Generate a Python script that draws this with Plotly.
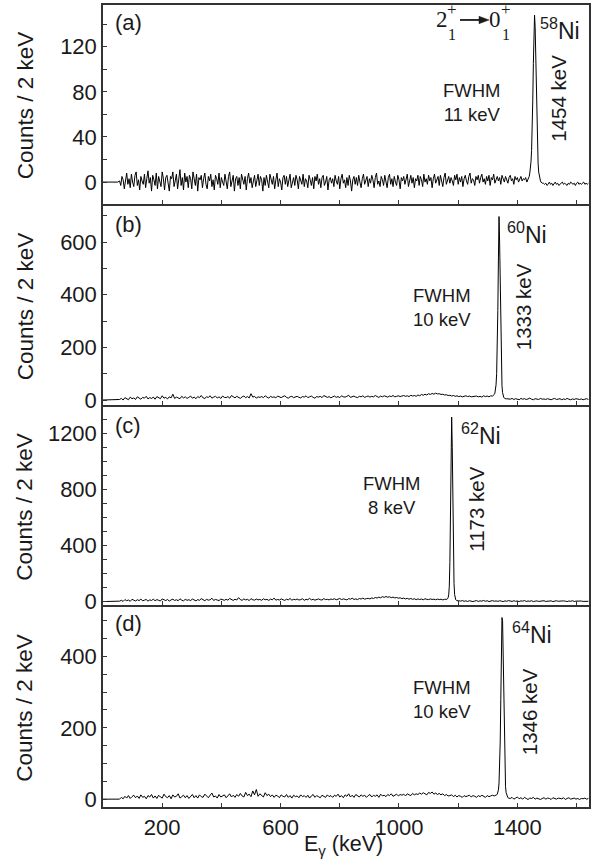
import plotly.graph_objects as go

# ---------------- data (counts per 2 keV bin) ----------------
lead_energy = [0, 50]
lead_counts = [0, 0]

# panel (a) background read at 4 keV spacing from 56 keV
bg_a_start, bg_a_step = 56, 4
bg_a = [
    1, -3, 5, 2, -6, 4, 8, -2, 3, -5, 7, 0, -4, 6, 9, -3, 2, -7, 5, 1,
    -2, 7, -5, 3, 10, -1, 4, -8, 6, 2, -3, 8, -6, 5, 1, -4, 9, 3, -7, 4,
    6, -2, -8, 5, 3, 9, -4, 1, 7, -6, 2, 11, -3, 4, -7, 8, 0, 5, -5, 6,
    3, -6, 9, 1, -3, 7, -8, 4, 2, 6, -5, 3, 8, -2, -6, 5, 1, 7, -4, 2,
    -7, 6, 3, -2, 8, -5, 4, 0, -3, 7, 2, -6, 5, 9, -4, 1, 6, -8, 3, 5,
    -3, 4, -6, 7, 2, -2, 5, -7, 3, 8, -1, 4, -5, 2, 6, -4, 1, 7, -3, 5,
    2, -8, 4, -3, 6, 1, -5, 7, 3, -2, 5, -6, 2, 8, -4, 3, 0, -7, 4, 6,
    -2, 5, -4, 3, 7, -5, 1, 4, -3, 6, 2, -6, 5, 0, -2, 7, -4, 3, 1, -5,
    6, 2, -3, 4, -6, 5, 1, 7, -2, 3, -5, 4, 6, -3, 0, 5, -7, 2, 4, -1,
    3, -4, 6, 1, -2, 5, -6, 3, 7, -1, 2, -5, 4, -3, 6, 1, -8, 2, 5, -2,
    4, -3, 6, 0, -5, 3, 7, -2, 1, 5, -4, 3, -1, 6, 2, -5, 4, 8, -2, 1,
    -4, 5, 2, -3, 6, 1, -5, 4, 7, -2, 3, -4, 5, 0, -3, 6, 2, -6, 4, 1,
    5, -2, 3, 7, -4, 2, 6, -1, 4, -5, 3, 1, 6, -3, 5, 2, -4, 7, 0, 3,
    -2, 6, 1, 4, -5, 3, 7, -1, 2, 5, -3, 6, 1, -4, 4, 8, -2, 3, 5, -1,
    4, 1, -3, 6, 2, 7, -2, 4, 0, 5, -4, 3, 6, 1, -2, 5, 8, -1, 3, 2,
    -3, 5, 2, 6, -1, 4, 7, 0, 3, -2, 5, 1, 6, -3, 4, 2, 7, -1, 3, 5,
    1, 4, -2, 6, 3, 0, 5, 2, -1, 4, 6, 1, 3, -2, 5, 2, 4, 0, 3, 5,
    1, 3, 2, 4, 0, 2, 2, 2, 2, 2, 2, 2, 2, 2, 2, 2, 2, 2, -1, -2,
    -1, -3, -2, 0, -2, -1, -3, -1, 0, -2, -1, -3, -2, -1, 0, -2, -1, -2, -3, -1,
    -2, 0, -1, -2, -1, -3, -1, 0, -2, -1, -2, -1, 0, -2, -1, -2, -1,
]
peak_a_start = 1436
peak_a = [2, 3, 5, 8, 12, 18, 28, 45, 72, 105, 135, 148, 138, 110, 78,
          50, 30, 17, 9, 5, 2, 1, 0, -1, -1]

# panels (b)-(d) background read at 6 keV spacing from 56 keV
bg_start, bg_step = 56, 6
bg_b = [
    2, 6, 0, 9, 4, 1, 11, 5, 8, 2, 12, 6, 3, 10, 7, 14, 4, 9, 6, 11,
    3, 13, 8, 5, 16, 7, 10, 4, 12, 8, 22, 6, 11, 9, 5, 14, 8, 12, 6, 10,
    15, 7, 11, 5, 13, 9, 17, 8, 6, 12, 10, 16, 7, 11, 14, 8, 12, 6, 15, 10,
    9, 13, 7, 17, 11, 8, 14, 10, 6, 12, 15, 9, 13, 8, 24, 11, 14, 7, 12, 10,
    13, 9, 16, 11, 7, 14, 10, 12, 8, 15, 11, 9, 13, 16, 10, 7, 12, 14, 9, 11,
    14, 10, 8, 13, 11, 16, 9, 12, 15, 10, 7, 13, 11, 14, 9, 17, 12, 10, 13, 8,
    12, 15, 10, 13, 9, 16, 12, 11, 14, 18, 10, 13, 15, 11, 9, 14, 12, 16, 10, 13,
    15, 11, 14, 12, 17, 13, 10, 15, 12, 16, 14, 11, 15, 13, 17, 12, 14, 16, 13, 15,
    17, 14, 16, 13, 18, 15, 17, 14, 19, 16, 21, 18, 22, 19, 24, 21, 25, 22, 26, 23,
    24, 21, 22, 19, 20, 17, 18, 15, 17, 14, 16, 13, 15, 12, 14, 16, 13, 15, 12, 14,
    13, 15, 12, 14, 11, 16, 13, 15, 12, 16, 15, 14, 12, 10, 8, 7, 6, 5, 5, 4,
    3, 6, 2, 5, 4, 1, 6, 3, 5, 2, 4, 7, 3, 1, 5, 4, 2, 6, 3, 4,
    2, 5, 3, 1, 4, 6, 2, 3, 5, 1, 4, 2, 6, 3, 1, 4, 2, 5, 3, 2,
    4, 1, 3, 5, 2,
]
peak_b_start = 1316
peak_b = [15, 16, 18, 21, 26, 36, 58, 100, 190, 340, 540, 697, 600, 400, 220,
          110, 55, 28, 15, 10, 7, 5, 5, 4]

bg_c = [
    3, 9, 1, 14, 6, 11, 2, 16, 8, 4, 13, 7, 18, 5, 10, 15, 3, 12, 8, 17,
    6, 14, 9, 4, 19, 11, 7, 15, 3, 12, 17, 8, 13, 6, 20, 10, 5, 16, 9, 13,
    7, 18, 11, 5, 14, 9, 21, 12, 6, 16, 10, 13, 24, 8, 15, 11, 7, 18, 12, 9,
    16, 10, 22, 13, 8, 17, 11, 28, 14, 9, 19, 12, 16, 7, 21, 13, 10, 18, 12, 15,
    9, 20, 13, 16, 8, 18, 12, 25, 10, 15, 11, 19, 14, 8, 17, 12, 22, 10, 16, 13,
    18, 11, 14, 20, 9, 16, 13, 23, 12, 17, 10, 15, 19, 13, 11, 21, 14, 16, 12, 18,
    15, 20, 13, 17, 22, 14, 19, 16, 12, 21, 17, 24, 15, 19, 14, 22, 18, 25, 17, 21,
    23, 19, 26, 22, 29, 25, 32, 27, 35, 30, 36, 31, 34, 28, 32, 26, 29, 24, 27, 21,
    25, 19, 23, 17, 22, 16, 20, 14, 19, 15, 18, 13, 20, 16, 14, 19, 15, 17, 13, 18,
    14, 17, 12, 16, 14, 15, 14, 13, 12, 10, 8, 6, 3, 7, 2, 5, 1, 6, 3, 0,
    4, 7, 1, 5, 3, 8, 2, 6, 0, 4, 7, 2, 5, 1, 6, 3, 0, 5, 2, 7,
    3, 1, 6, 2, 4, 0, 5, 3, 7, 1, 4, 2, 6, 0, 3, 5, 1, 4, 2, 6,
    1, 4, 2, 5, 0, 3, 6, 2, 4, 1, 5, 3, 0, 4, 2, 6, 1, 3, 5, 2,
    4, 1, 3, 0, 2,
]
peak_c_start = 1162
peak_c = [16, 20, 28, 48, 110, 280, 600, 1020, 1318, 1100, 700, 330, 130,
          50, 22, 12, 8, 6]

bg_d = [
    0, 5, 1, 8, 3, 10, 2, 7, 11, 4, 9, 2, 12, 5, 8, 1, 10, 6, 13, 3,
    9, 2, 11, 6, 3, 14, 7, 4, 10, 1, 12, 6, 8, 15, 3, 7, 11, 4, 10, 2,
    8, 13, 4, 10, 3, 12, 7, 5, 14, 8, 4, 11, 17, 6, 9, 3, 13, 6, 8, 12,
    4, 10, 15, 6, 11, 5, 13, 8, 16, 9, 6, 19, 10, 14, 7, 23, 12, 27, 8, 15,
    11, 6, 18, 10, 14, 7, 12, 5, 11, 9, 4, 12, 8, 6, 13, 5, 10, 3, 11, 7,
    9, 4, 12, 7, 10, 5, 11, 3, 9, 13, 5, 10, 7, 4, 11, 8, 5, 12, 7, 10,
    5, 11, 8, 14, 6, 10, 4, 12, 8, 15, 6, 11, 5, 13, 9, 6, 12, 8, 11, 5,
    10, 13, 6, 11, 8, 12, 5, 14, 9, 11, 7, 13, 10, 15, 8, 12, 14, 9, 13, 11,
    14, 9, 15, 12, 10, 16, 12, 15, 13, 17, 14, 18, 15, 12, 19, 16, 20, 14, 17, 13,
    16, 12, 15, 10, 13, 9, 10, 12, 7, 11, 6, 10, 8, 5, 10, 7, 9, 11, 6, 10,
    8, 5, 10, 7, 11, 8, 5, 10, 7, 9, 11, 9, 11, 10, 8, 7, 5, 4, 6, 3,
    2, 5, 0, 3, 6, 1, 4, 0, 5, 2, -1, 3, 2, 5, 0, 3, 2, -1, 2, 4,
    0, 3, 2, -1, 4, 2, 0, 3, 2, 1, 4, -1, 2, 4, 0, 2, 3, 0, 2, -1,
    2, 1, 3, 0, 2,
]
peak_d_start = 1328
peak_d = [10, 12, 14, 18, 26, 45, 85, 160, 280, 420, 509, 500, 400, 260,
          140, 70, 35, 18, 10, 6, 4, 3, 3, 2]

panel_tags = ["(a)", "(b)", "(c)", "(d)"]
isotopes = ["58", "60", "62", "64"]
fwhm_text = ["11 keV", "10 keV", "8 keV", "10 keV"]
line_energy = ["1454 keV", "1333 keV", "1173 keV", "1346 keV"]

x_major = [200, 600, 1000, 1400]
x_minor = [400, 800, 1200, 1600]
y_major = [[0, 40, 80, 120], [0, 200, 400, 600], [0, 400, 800, 1200], [0, 200, 400]]
y_minor = [[20, 60, 100, 140], [100, 300, 500, 700],
           [100, 200, 300, 500, 600, 700, 900, 1000, 1100, 1300],
           [50, 100, 150, 250, 300, 350, 450, 500]]
y_ranges = [[-19, 157], [-19, 739], [-21, 1390], [-22, 540]]
x_range = [0, 1642]


def build(bg, start, step, pk_start, pk):
    e_bg = [start + step * i for i in range(len(bg))]
    e_pk = [pk_start + 2 * i for i in range(len(pk))]
    lo, hi = e_pk[0], e_pk[-1]
    pts = list(zip(lead_energy, lead_counts))
    pts += [(e, c) for e, c in zip(e_bg, bg) if e < lo or e > hi]
    pts += list(zip(e_pk, pk))
    pts.sort()
    return [p[0] for p in pts], [p[1] for p in pts]


series = [build(bg_a, bg_a_start, bg_a_step, peak_a_start, peak_a),
          build(bg_b, bg_start, bg_step, peak_b_start, peak_b),
          build(bg_c, bg_start, bg_step, peak_c_start, peak_c),
          build(bg_d, bg_start, bg_step, peak_d_start, peak_d)]

# ---------------- layout geometry (pixels) ----------------
W, H = 600, 866
L, R, T, B = 103, 11, 3, 59
PW, PH = W - L - R, H - T - B
panel_px = [(3, 202), (204, 404), (406, 604), (606, 807)]


def px(x):
    return (x - L) / PW


def py(y):
    return (H - B - y) / PH


FONT = "Liberation Sans, Arial, Helvetica, sans-serif"
SERIF = "Liberation Serif, Times New Roman, serif"
AX = "#333333"
TXT = "#1a1a1a"

fig = go.Figure()
for i, (xs, ys) in enumerate(series):
    n = "" if i == 0 else str(i + 1)
    fig.add_trace(go.Scatter(x=xs, y=ys, mode="lines", xaxis="x" + n, yaxis="y" + n,
                             line=dict(color="black", width=1), showlegend=False,
                             hoverinfo="skip"))
    top, bot = panel_px[i]
    fig.layout["xaxis" + n] = dict(
        domain=[0, 1], anchor="y" + n, range=x_range, tickmode="array",
        tickvals=x_major, showticklabels=(i == 3),
        ticks="inside", ticklen=4, tickwidth=1, tickcolor=AX,
        minor=dict(tickmode="array", tickvals=x_minor, ticks="inside", ticklen=4,
                   tickwidth=1, tickcolor=AX, showgrid=False),
        showline=True, linecolor=AX, linewidth=1.5, mirror=True,
        showgrid=False, zeroline=False,
        tickfont=dict(family=FONT, size=22, color=TXT),
    )
    fig.layout["yaxis" + n] = dict(
        domain=[py(bot), py(top)], anchor="x" + n, range=y_ranges[i], tickmode="array",
        tickvals=y_major[i], ticks="inside", ticklen=4, tickwidth=1, tickcolor=AX,
        minor=dict(tickmode="array", tickvals=y_minor[i], ticks="inside", ticklen=4,
                   tickwidth=1, tickcolor=AX, showgrid=False),
        showline=True, linecolor=AX, linewidth=1.5, mirror=True,
        showgrid=False, zeroline=False,
        tickfont=dict(family=FONT, size=22, color=TXT),
    )

anns = []


def add(text, x, y, size, xanchor="center", yanchor="middle", family=FONT, angle=0):
    anns.append(dict(text=text, x=px(x), y=py(y), xref="paper", yref="paper",
                     showarrow=False, xanchor=xanchor, yanchor=yanchor, textangle=angle,
                     font=dict(family=family, size=size, color=TXT)))


tag_pos = [(113, 21), (113, 223), (113, 425), (113, 623)]
iso_pos = [(538, 27), (505, 232), (459, 433), (510, 633)]
fwhm_pos = [(472, 101), (442, 306), (392, 495), (442, 699)]
energy_pos = [(559, 97), (523, 306), (477, 509), (529, 712)]

for i in range(4):
    add(panel_tags[i], *tag_pos[i], 22, xanchor="left")
    add("<sup>" + isotopes[i] + "</sup>Ni", *iso_pos[i], 23, xanchor="left")
    add("FWHM<br>" + fwhm_text[i], *fwhm_pos[i], 18.5)
    add(line_energy[i], *energy_pos[i], 20.5, angle=-90)
    top, bot = panel_px[i]
    add("Counts / 2 keV", 25, (top + bot) / 2 + 1, 22.5, angle=-90)

add("E<sub>γ</sub> (keV)", 343, 846, 21.5)

# transition label 2_1^+ -> 0_1^+
add("2", 442, 18, 23, family=SERIF)
add("+", 452, 8, 17, family=SERIF)
add("1", 452, 33, 16, family=SERIF)
add("0", 495, 18, 23, family=SERIF)
add("+", 506, 8, 17, family=SERIF)
add("1", 506, 33, 16, family=SERIF)

shapes = [
    dict(type="line", xref="paper", yref="paper", x0=px(460), x1=px(482),
         y0=py(18), y1=py(18), line=dict(color=TXT, width=1.8)),
    dict(type="path", xref="paper", yref="paper",
         path="M {:.5f},{:.5f} L {:.5f},{:.5f} L {:.5f},{:.5f} Z".format(
             px(479), py(14.3), px(489), py(18), px(479), py(21.7)),
         fillcolor=TXT, line=dict(color=TXT, width=0.5)),
]

fig.update_layout(
    width=W, height=H, margin=dict(l=L, r=R, t=T, b=B),
    paper_bgcolor="white", plot_bgcolor="white", annotations=anns, shapes=shapes,
    font=dict(family=FONT, color=TXT),
)
fig.write_html("out.html", config={"displayModeBar": False},
               post_script="document.body.style.margin='0';")
